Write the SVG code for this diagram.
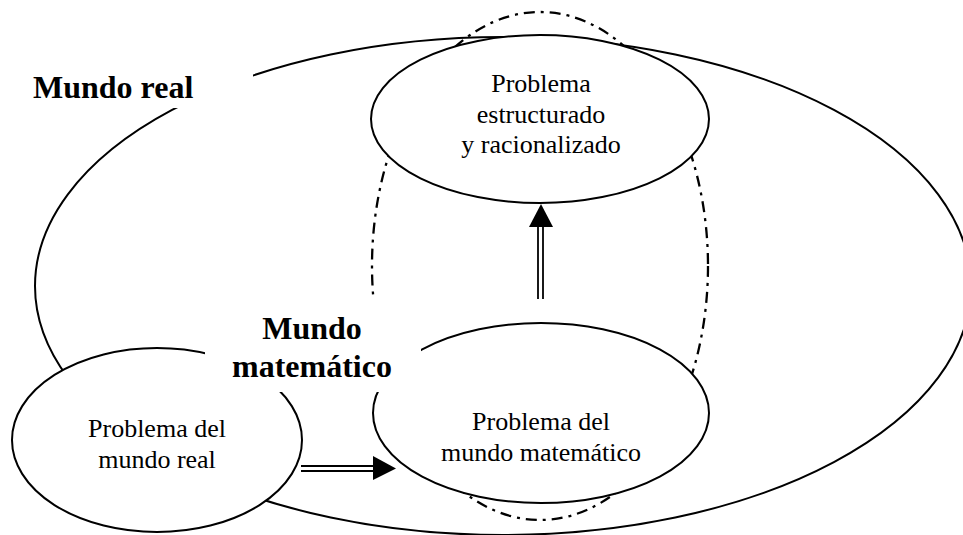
<svg xmlns="http://www.w3.org/2000/svg" width="963" height="535" viewBox="0 0 963 535">
<style>
.e{fill:#fff;stroke:#000;stroke-width:2}
.world{fill:none;stroke:#000;stroke-width:2}
.dd{fill:none;stroke:#000;stroke-width:2.3;stroke-dasharray:11,6,3,6}
.mask{fill:#fff;stroke:none}
.t{font-family:"Liberation Serif","Times New Roman",serif;font-size:26px;fill:#000;text-anchor:middle}
.b{font-family:"Liberation Serif","Times New Roman",serif;font-size:32px;font-weight:bold;fill:#000}
.sh{stroke:#000;stroke-width:1.8;fill:none}
.hd{fill:#000;stroke:none}
</style>
<rect width="963" height="535" fill="#fff"/>
<g id="mundo-real-region">
<ellipse class="world" cx="503" cy="286" rx="468" ry="249"/>
</g>
<g id="mundo-matematico-region">
<ellipse class="dd" cx="540" cy="266" rx="168" ry="254"/>
</g>
<g id="problema-estructurado">
<ellipse class="e" cx="540" cy="119" rx="169" ry="84"/>
<text class="t" x="541" y="92">Problema</text>
<text class="t" x="541" y="123">estructurado</text>
<text class="t" x="541" y="153">y racionalizado</text>
</g>
<g id="problema-matematico">
<ellipse class="e" cx="541" cy="413" rx="168" ry="90"/>
<text class="t" x="541" y="430">Problema del</text>
<text class="t" x="541" y="461">mundo matemático</text>
</g>
<g id="problema-real">
<ellipse class="e" cx="157" cy="440" rx="145" ry="92"/>
<text class="t" x="157" y="437">Problema del</text>
<text class="t" x="157" y="468">mundo real</text>
</g>
<g id="label-mundo-real">
<rect class="mask" x="25" y="55" width="228" height="53"/>
<text class="b" x="33" y="98">Mundo real</text>
</g>
<g id="label-mundo-matematico">
<rect class="mask" x="205" y="298" width="216" height="94"/>
<text class="b" x="312" y="339" text-anchor="middle">Mundo</text>
<text class="b" x="312" y="377" text-anchor="middle">matemático</text>
</g>
<g id="connectors">
<line class="sh" x1="301" y1="466" x2="375" y2="466"/>
<line class="sh" x1="301" y1="471" x2="375" y2="471"/>
<polygon class="hd" points="373,456 396,468.5 373,480"/>
<line class="sh" x1="538" y1="225" x2="538" y2="299"/>
<line class="sh" x1="543" y1="225" x2="543" y2="299"/>
<polygon class="hd" points="529,227 541,204 553,227"/>
</g>
</svg>
